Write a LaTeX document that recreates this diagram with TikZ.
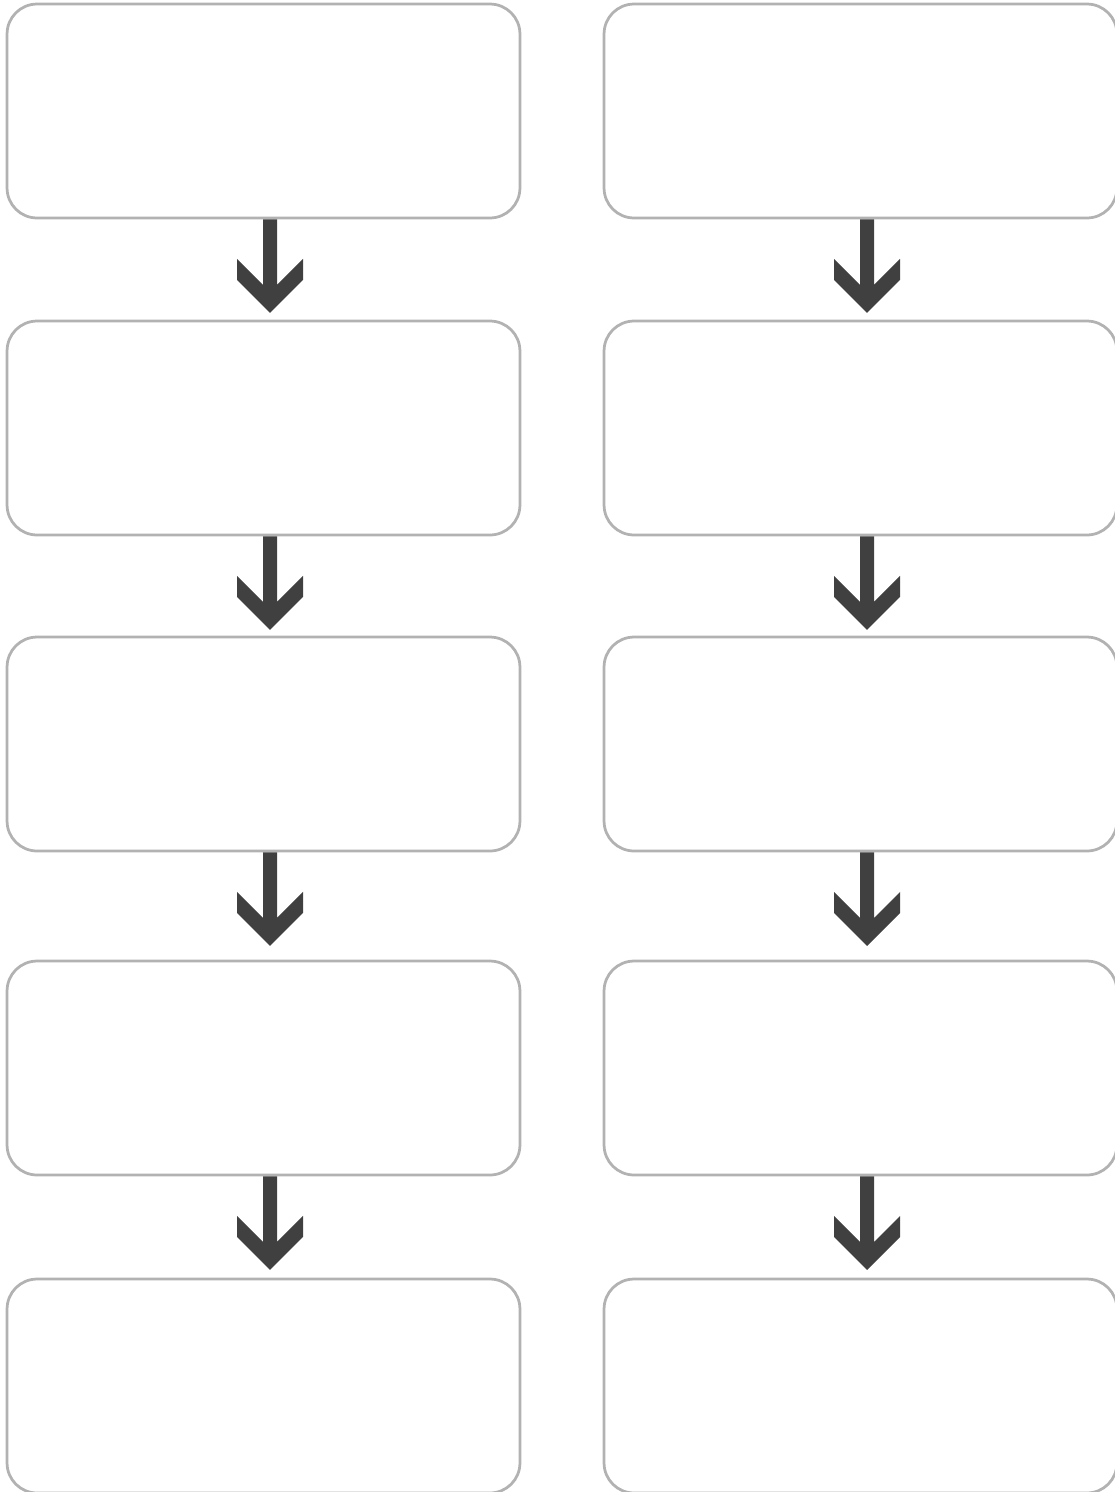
\documentclass[tikz,border=0pt]{standalone}
\usepackage{tikz}
\usetikzlibrary{calc}
\definecolor{boxgray}{RGB}{178,178,178}
\definecolor{arrowgray}{RGB}{64,64,64}
\tikzset{every picture/.style={line width=.55pt}}

\begin{document}
\begin{tikzpicture}[x=.02cm,y=-.02cm,
 stagebox/.style={draw=boxgray,line width=.055cm,rounded corners=.6cm,
  fill=white,minimum width=10.26cm,minimum height=4.28cm,
  inner sep=0pt,outer sep=0pt},
 flowarrow/.style={fill=arrowgray}]
 \useasboundingbox (0,0) rectangle (1115,1492);
 \clip (0,0) rectangle (1115,1492);

 % Two columns of five empty stages.
 \foreach \col/\xx in {l/263.5,r/860.5}{
  \foreach \row/\yy in {1/111,2/428,3/744,4/1068,5/1386}{
   \node[stagebox] (\col\row) at (\xx,\yy) {};
  }
 }

 % Block arrows from each stage down towards the next one.
 \foreach \col in {l,r}{
  \foreach \row/\next in {1/2,2/3,3/4,4/5}{
   \coordinate (tip) at ($(\col\row.south)+(6.5,95)$);
   \fill[flowarrow] ($(\col\row.south)+(-.5,1.5)$)
    --($(tip)+(-7,-28)$)--($(tip)+(-33,-54)$)--($(tip)+(-33,-33)$)
    --(tip)
    --($(tip)+(33,-33)$)--($(tip)+(33,-54)$)--($(tip)+(7,-28)$)
    --($(\col\row.south)+(13.5,1.5)$)--cycle;
  }
 }
\end{tikzpicture}
\end{document}
